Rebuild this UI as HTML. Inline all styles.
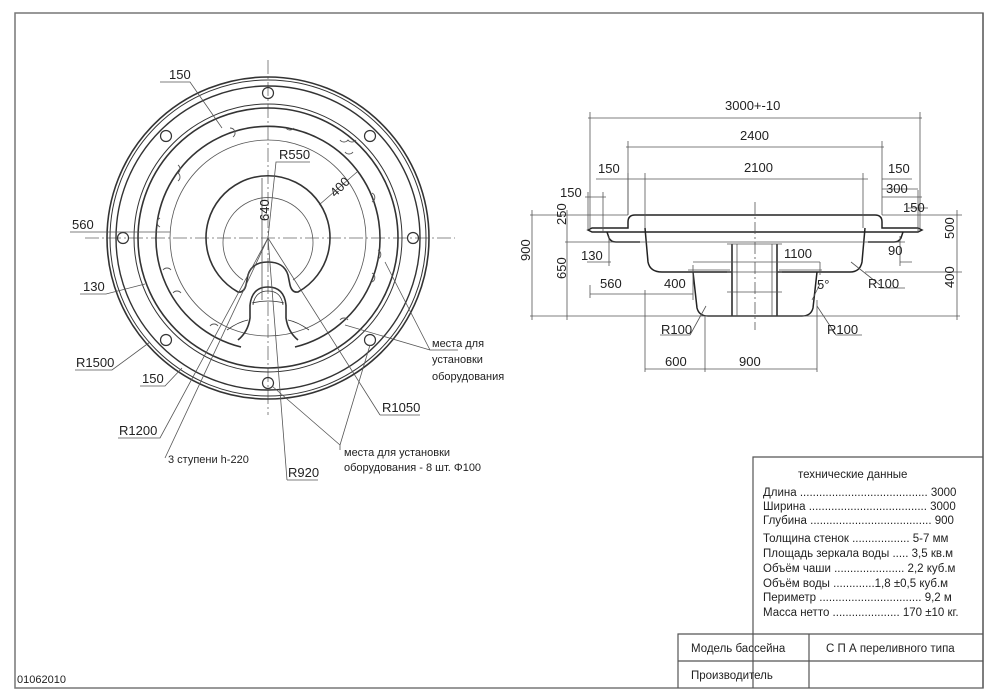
<!DOCTYPE html>
<html><head><meta charset="utf-8"><style>
html,body{margin:0;padding:0;background:#fff;}
svg{display:block;}
text{font-family:"Liberation Sans","DejaVu Sans",sans-serif;fill:#222;}
.t{font-size:13px;}
.s{font-size:11px;}
</style></head><body>
<svg width="1000" height="697" viewBox="0 0 1000 697" xmlns="http://www.w3.org/2000/svg">
<rect x="15" y="13" width="968" height="675" fill="none" stroke="#777" stroke-width="1.5"/>
<text x="17" y="683" style="font-size:11px">01062010</text>

<!-- PLAN -->
<g fill="none" stroke="#333">
<line x1="85" y1="238" x2="455" y2="238" stroke="#666" stroke-width="0.8" stroke-dasharray="14,3,2,3"/>
<line x1="268" y1="60" x2="268" y2="415" stroke="#666" stroke-width="0.8" stroke-dasharray="14,3,2,3"/>
<circle cx="268" cy="238" r="161" stroke-width="1.6"/>
<circle cx="268" cy="238" r="158" stroke-width="1"/>
<circle cx="268" cy="238" r="152" stroke-width="1.4"/>
<circle cx="268" cy="238" r="134" stroke-width="1"/>
<circle cx="268" cy="238" r="130" stroke-width="1.6"/>
<path d="M241,347 A112,112 0 1 1 295,347" stroke-width="1.6"/>
<circle cx="268" cy="238" r="98" stroke-width="0.8" stroke="#555"/>
<path d="M238,292 A62,62 0 1 1 298,292 Q292,293 290,285 L288,275 Q284,262 268,262 Q252,262 248,275 L246,285 Q244,293 238,292 Z" stroke-width="1.6"/>
<path d="M243,280 A45,45 0 1 1 293,280" stroke-width="0.8" stroke="#555"/>
<path d="M250,305 Q252,287 268,287 Q284,287 286,305" stroke-width="1.6"/>
<path d="M253,305 Q255,291 268,291 Q281,291 283,305" stroke-width="0.8"/>
<path d="M252,303 Q260,301 268,301 Q276,301 284,303" stroke-width="0.8"/>
<path d="M250,305 L250,318 Q248,332 238,340 M286,305 L286,318 Q288,332 298,340" stroke-width="1.6"/>
<path d="M227,330 Q238,322 248,320 M309,330 Q298,322 288,320" stroke-width="0.8"/>
<g stroke-width="1.2">
<circle cx="268" cy="93" r="5.5"/><circle cx="268" cy="383" r="5.5"/>
<circle cx="123" cy="238" r="5.5"/><circle cx="413" cy="238" r="5.5"/>
<circle cx="166" cy="136" r="5.5"/><circle cx="370" cy="136" r="5.5"/>
<circle cx="166" cy="340" r="5.5"/><circle cx="370" cy="340" r="5.5"/>
</g>
<g stroke-width="0.9" stroke="#555">
<path d="M230,128 a5,5 0 0 1 3,9"/><path d="M286,128 a5,5 0 0 0 8,0"/>
<path d="M340,140 a5,5 0 0 0 8,0 a5,5 0 0 0 8,0"/><path d="M345,152 a5,5 0 0 0 8,0"/>
<path d="M178,165 a5,5 0 0 1 0,8 a5,5 0 0 1 0,8"/><path d="M160,218 a5,5 0 0 0 0,9"/>
<path d="M163,270 a5,5 0 0 1 8,0"/><path d="M173,293 a5,5 0 0 1 8,0"/>
<path d="M210,326 a5,5 0 0 1 8,0"/><path d="M372,193 a5,5 0 0 1 0,9"/>
<path d="M378,250 a5,5 0 0 1 0,9"/><path d="M372,273 a5,5 0 0 1 0,9"/>
<path d="M340,320 a5,5 0 0 1 8,0"/>
</g>
<!-- leaders -->
<g stroke="#555" stroke-width="0.8">
<path d="M160,82 H190 L222,128"/>
<path d="M310,162 H276 L268,238"/>
<path d="M319,205 L357,172"/>
<path d="M262,178 V300"/>
<path d="M70,232 H100 L170,232"/>
<path d="M80,294 H106 L145,284"/>
<path d="M75,370 H112 L150,342"/>
<path d="M140,386 H165 L182,368"/>
<path d="M118,438 H160 L268,238"/>
<path d="M165,458 L268,238"/>
<path d="M287,480 H318 M287,480 L268,238"/>
<path d="M380,415 H420 M380,415 L268,238"/>
<path d="M340,450 V445 L272,386 M340,445 L370,345"/>
<path d="M430,350 H458 M430,350 L345,325 M430,350 L385,262"/>
</g>
</g>
<g class="t">
<text x="169" y="79">150</text>
<text x="279" y="159">R550</text>
<text x="330" y="195" transform="rotate(-45 336 190)">400</text>
<text x="266" y="232" transform="rotate(-90 262 225)">640</text>
<text x="72" y="229">560</text>
<text x="83" y="291">130</text>
<text x="76" y="367">R1500</text>
<text x="142" y="383">150</text>
<text x="119" y="435">R1200</text>
<text x="382" y="412">R1050</text>
<text x="288" y="477">R920</text>
</g>
<g class="s">
<text x="168" y="463">3 ступени h-220</text>
<text x="344" y="456">места для установки</text>
<text x="344" y="471">оборудования - 8 шт. Φ100</text>
<text x="432" y="347">места для</text>
<text x="432" y="363">установки</text>
<text x="432" y="380">оборудования</text>
</g>

<!-- SECTION -->
<g fill="none" stroke="#222" stroke-width="1.5">
<path d="M588,230 L592,228 H628 L628,222 Q628,215 635,215 H875 Q882,215 882,222 L882,228 H918 L922,230 L918,232 H592 Z"/>
<path d="M607,232 L609,238 Q611,242 616,242 H640"/>
<path d="M903,232 L901,238 Q899,242 894,242 H868"/>
<path d="M645,228 L648,262 Q650,272 662,272 H732 M777,272 H850 Q860,272 862,262 L865,228"/>
<path d="M693,272 L697,308 Q699,316 708,316 H802 Q811,316 813,308 L817,272"/>
<path d="M732,244 V316 M777,244 V316"/>
</g>
<g fill="none" stroke="#555" stroke-width="0.8">
<path d="M607,242 H905"/>
<path d="M737,244 V316 M772,244 V316 M727,244 H782"/>
<path d="M688,270 H730 M779,270 H822 M727,292 H782 M727,272 H782"/>
<line x1="755" y1="202" x2="755" y2="330" stroke-dasharray="12,3,2,3"/>
<!-- dims -->
<path d="M588,118 H922 M590,112 V228 M920,112 V228"/>
<path d="M626,147 H884 M628,141 V215 M882,141 V215"/>
<path d="M596,179 H868 M645,173 V228 M863,173 V228 M628,173 V215"/>
<path d="M882,179 H912 M882,189 H918 M882,197 H922 M908,208 H928 M918,190 V232"/>
<path d="M585,197 H606 M588,192 V230 M603,192 V232"/>
<path d="M530,215 H628 M530,316 H960 M565,242 H607 M532,210 V320 M567,210 V320"/>
<path d="M882,215 H962 M865,272 H962 M957,210 V320"/>
<path d="M587,262 H611 M609,236 V266"/>
<path d="M590,294 H646 M590,285 V298"/>
<path d="M646,294 H693 M693,265 V300"/>
<path d="M693,262 H820 M820,262 V275"/>
<path d="M900,262 H912 M900,236 V266"/>
<path d="M645,369 H817 M645,290 V372 M705,316 V372 M817,300 V372"/>
<path d="M690,335 L706,306 M660,335 H690"/>
<path d="M836,335 L817,306 M836,335 H862"/>
<path d="M880,285 L851,262 M880,288 H905"/>
<path d="M812,300 L820,284"/>
</g>
<g class="t">
<text x="725" y="110">3000+-10</text>
<text x="740" y="140">2400</text>
<text x="744" y="172">2100</text>
<text x="598" y="173">150</text>
<text x="888" y="173">150</text>
<text x="886" y="193">300</text>
<text x="903" y="212">150</text>
<text x="560" y="197">150</text>
<text x="581" y="260">130</text>
<text x="600" y="288">560</text>
<text x="664" y="288">400</text>
<text x="784" y="258">1100</text>
<text x="817" y="289">5°</text>
<text x="888" y="255">90</text>
<text x="868" y="288">R100</text>
<text x="661" y="334">R100</text>
<text x="827" y="334">R100</text>
<text x="665" y="366">600</text>
<text x="739" y="366">900</text>
<text x="565" y="236" transform="rotate(-90 560 230)">250</text>
<text x="565" y="290" transform="rotate(-90 560 284)">650</text>
<text x="529" y="272" transform="rotate(-90 524 266)">900</text>
<text x="952" y="249" transform="rotate(-90 948 243)">500</text>
<text x="952" y="298" transform="rotate(-90 948 292)">400</text>
</g>

<!-- TABLE -->
<g fill="none" stroke="#555" stroke-width="1.2">
<path d="M753,688 V457 H983"/>
<path d="M678,688 V634 H983 M678,661 H983 M809,634 V688 M983,13 V688"/>
</g>
<g style="font-size:11.5px">
<text x="798" y="478">технические  данные</text>
<text x="763" y="496">Длина ........................................ 3000</text>
<text x="763" y="510">Ширина ..................................... 3000</text>
<text x="763" y="524">Глубина ...................................... 900</text>
<text x="763" y="542">Толщина стенок ..................  5-7 мм</text>
<text x="763" y="557">Площадь зеркала воды ..... 3,5 кв.м</text>
<text x="763" y="572">Объём чаши ...................... 2,2 куб.м</text>
<text x="763" y="587">Объём воды  .............1,8 ±0,5 куб.м</text>
<text x="763" y="601">Периметр  ................................  9,2 м</text>
<text x="763" y="616">Масса нетто ..................... 170 ±10 кг.</text>
<text x="691" y="652">Модель бассейна</text>
<text x="826" y="652">С П А переливного типа</text>
<text x="691" y="679">Производитель</text>
</g>
</svg>
</body></html>
